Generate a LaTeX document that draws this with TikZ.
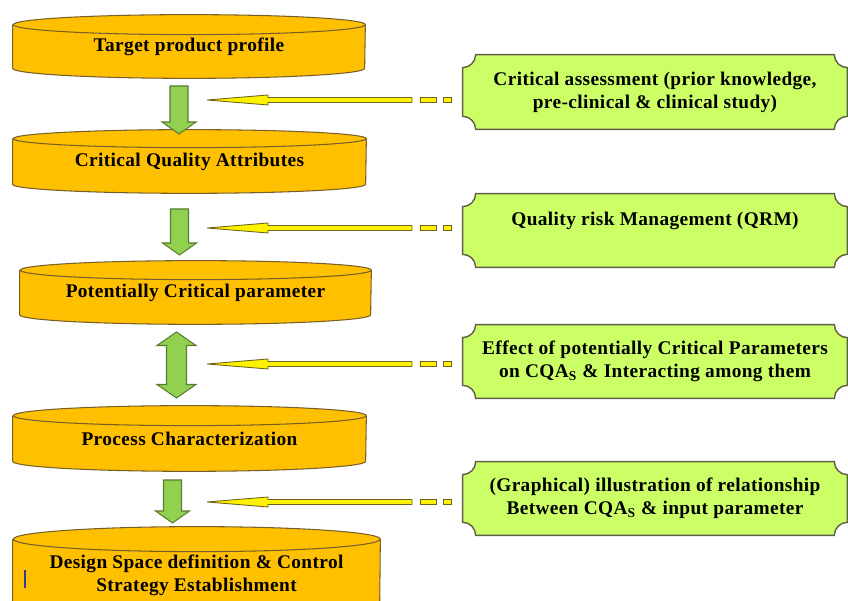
\documentclass[tikz,border=0pt]{standalone}
\usepackage{fontspec}
\setmainfont{Liberation Serif}
\newfontfamily\figfont{Liberation Serif}[LetterSpace=2]
\usetikzlibrary{backgrounds}

\definecolor{cylorange}{RGB}{255,192,0}
\definecolor{cylline}{RGB}{120,95,40}
\definecolor{notegreen}{RGB}{204,255,102}
\definecolor{noteline}{RGB}{95,95,70}
\definecolor{arrowgreen}{RGB}{146,208,80}
\definecolor{arrowline}{RGB}{90,125,50}
\definecolor{yline}{RGB}{110,100,30}
\definecolor{cursorblue}{RGB}{50,60,150}

\begin{document}
\begin{tikzpicture}[
    every node/.style={font=\figfont\bfseries\fontsize{11}{13}\selectfont, align=center, inner sep=0pt},
    cyl/.style={minimum width=7.04cm, minimum height=1.26cm},
    note/.style={minimum width=7.68cm, minimum height=1.48cm},
    cylbody/.style={fill=cylorange, draw=cylline, line width=0.6pt},
    notebody/.style={fill=notegreen, draw=noteline, line width=0.8pt},
    garrow/.style={fill=arrowgreen, draw=arrowline, line width=0.6pt},
    yarrow/.style={fill=yellow, draw=yline, line width=0.5pt}
  ]
  \useasboundingbox (0,0) rectangle (16.96,12.02);

  % steps (cylinders)
  \node[cyl] (tpp) at (3.78,11.09) {Target product profile};
  \node[cyl, minimum width=7.06cm] (cqa) at (3.79,8.79) {Critical Quality Attributes};
  \node[cyl, minimum width=7.02cm] (pcp) at (3.91,6.17) {Potentially Critical parameter};
  \node[cyl, minimum width=7.06cm, minimum height=1.30cm] (pch) at (3.79,3.25) {Process Characterization};
  \node[cyl, minimum width=7.34cm, minimum height=1.92cm] (dsd) at (3.93,0.52)
    {Design Space definition \& Control\\Strategy Establishment};

  % notes on the right
  \node[note] (ca) at (13.10,10.18) {Critical assessment (prior knowledge,\\pre-clinical \& clinical study)};
  \node[note, minimum height=1.46cm] (qrm) at (13.10,7.41) {Quality risk Management (QRM)\\\mbox{}};
  \node[note, minimum height=1.46cm] (eff) at (13.10,4.79)
    {Effect of potentially Critical Parameters\\on CQA\textsubscript{S} \& Interacting among them};
  \node[note, minimum height=1.46cm] (gra) at (13.10,2.05)
    {(Graphical) illustration of relationship\\Between CQA\textsubscript{S} \& input parameter};

  \begin{scope}[on background layer]
    % cylinder bodies
    \foreach \c/\rx/\ry in {tpp/3.52/0.2, cqa/3.53/0.18, pcp/3.51/0.19, pch/3.53/0.2, dsd/3.67/0.25}{
      \filldraw[cylbody] ([yshift=-\ry*1cm]\c.north west) -- ([yshift=\ry*1cm]\c.south west)
        arc[start angle=180, end angle=360, x radius=\rx, y radius=\ry]
        -- ([yshift=-\ry*1cm]\c.north east)
        arc[start angle=0, end angle=360, x radius=\rx, y radius=\ry];
    }
    % notched boxes
    \foreach \b in {ca,qrm,eff,gra}{
      \filldraw[notebody] ([xshift=0.26cm]\b.north west) -- ([xshift=-0.26cm]\b.north east)
        arc[start angle=180, end angle=270, radius=0.26]
        -- ([yshift=0.26cm]\b.south east)
        arc[start angle=90, end angle=180, radius=0.26]
        -- ([xshift=0.26cm]\b.south west)
        arc[start angle=0, end angle=90, radius=0.26]
        -- ([yshift=-0.26cm]\b.north west)
        arc[start angle=270, end angle=360, radius=0.26] -- cycle;
    }
  \end{scope}

  % green block arrows
  \coordinate (a1s) at (3.58,10.30);
  \coordinate (a1e) at (3.58,9.34);
  \coordinate (a2s) at (3.59,7.84);
  \coordinate (a2e) at (3.59,6.92);
  \coordinate (a4s) at (3.45,2.42);
  \coordinate (a4e) at (3.45,1.56);
  \foreach \s/\e in {a1s/a1e, a2s/a2e, a4s/a4e}{
    \filldraw[garrow] ([xshift=-0.18cm]\s) -- ([xshift=-0.18cm,yshift=0.24cm]\e)
      -- ([xshift=-0.34cm,yshift=0.24cm]\e) -- (\e) -- ([xshift=0.34cm,yshift=0.24cm]\e)
      -- ([xshift=0.18cm,yshift=0.24cm]\e) -- ([xshift=0.18cm]\s) -- cycle;
  }
  % double arrow
  \coordinate (a3s) at (3.53,5.38);
  \coordinate (a3e) at (3.53,4.06);
  \filldraw[garrow] (a3s) -- ([xshift=0.39cm,yshift=-0.27cm]a3s) -- ([xshift=0.2cm,yshift=-0.27cm]a3s)
    -- ([xshift=0.2cm,yshift=0.27cm]a3e) -- ([xshift=0.39cm,yshift=0.27cm]a3e) -- (a3e)
    -- ([xshift=-0.39cm,yshift=0.27cm]a3e) -- ([xshift=-0.2cm,yshift=0.27cm]a3e)
    -- ([xshift=-0.2cm,yshift=-0.27cm]a3s) -- ([xshift=-0.39cm,yshift=-0.27cm]a3s) -- cycle;

  % yellow arrows from the notes
  \coordinate (y1) at (4.14,10.02);
  \coordinate (y2) at (4.14,7.46);
  \coordinate (y3) at (4.14,4.74);
  \coordinate (y4) at (4.14,1.98);
  \foreach \t in {y1,y2,y3,y4}{
    \filldraw[yarrow] (\t) -- ++(1.22,0.1) -- ++(0,-0.05) -- ++(2.88,0) -- ++(0,-0.1)
      -- ++(-2.88,0) -- ++(0,-0.05) -- cycle;
    \filldraw[yarrow] ([xshift=4.26cm,yshift=-0.05cm]\t) rectangle ++(0.32,0.1);
    \filldraw[yarrow] ([xshift=4.72cm,yshift=-0.05cm]\t) rectangle ++(0.16,0.1);
  }

  % cursor mark
  \draw[cursorblue, line width=1pt] (0.5,0.62) -- (0.5,0.26);
\end{tikzpicture}
\end{document}
